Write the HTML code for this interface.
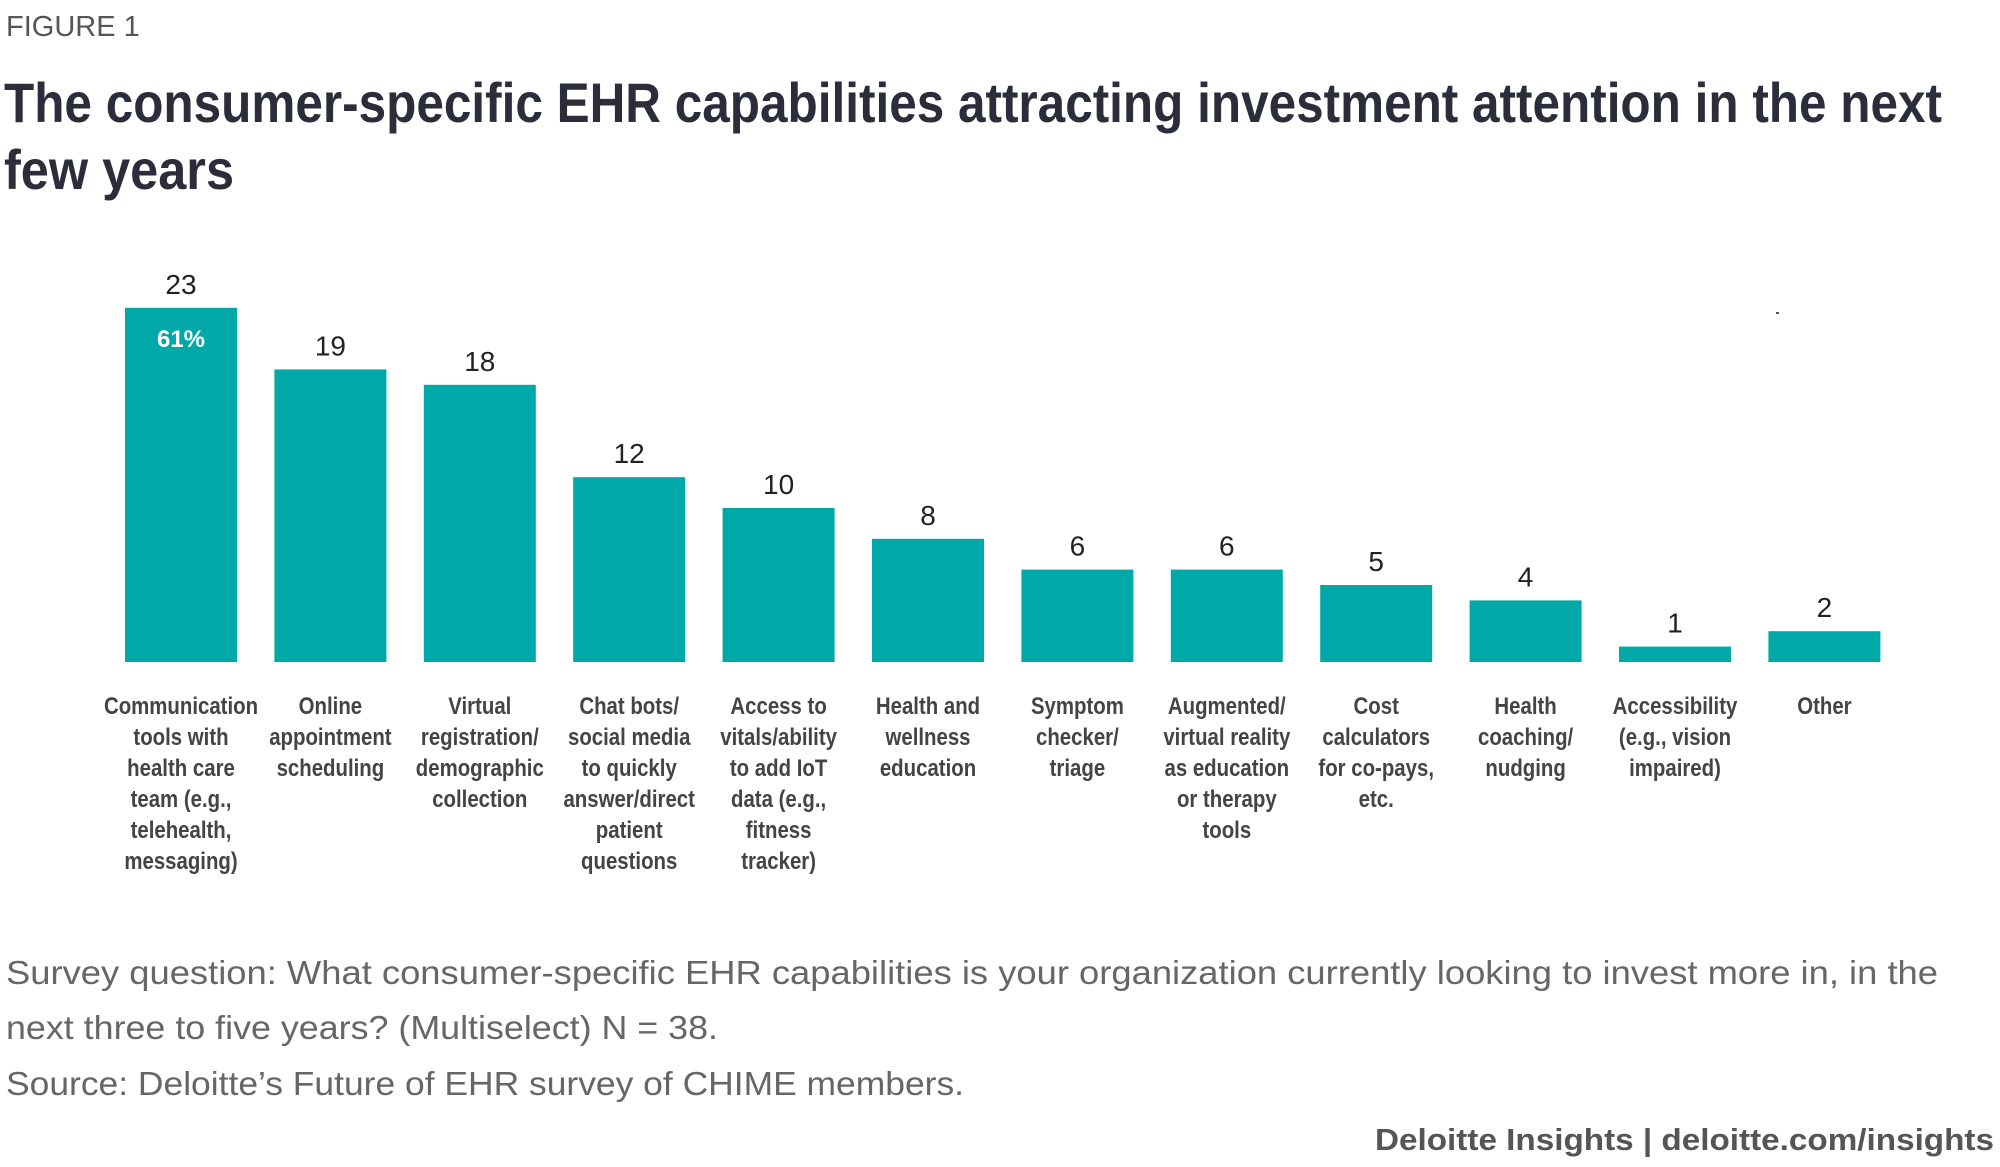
<!DOCTYPE html>
<html><head><meta charset="utf-8"><style>
html,body{margin:0;padding:0;background:#fff;}
svg{display:block;}
</style></head><body>
<svg id="chart" width="2000" height="1167" viewBox="0 0 2000 1167" xmlns="http://www.w3.org/2000/svg">
<text x="6" y="36" font-family="Liberation Sans, sans-serif" font-size="29" fill="#555">FIGURE 1</text>
<text x="4" y="122" font-family="Liberation Sans Narrow, Liberation Sans, sans-serif" font-weight="bold" font-size="56" fill="#2b2d3a" textLength="1938" lengthAdjust="spacingAndGlyphs">The consumer-specific EHR capabilities attracting investment attention in the next</text>
<text x="4" y="189" font-family="Liberation Sans Narrow, Liberation Sans, sans-serif" font-weight="bold" font-size="56" fill="#2b2d3a" textLength="230" lengthAdjust="spacingAndGlyphs">few years</text>
<g id="bars"></g>
<text x="6" y="984" font-family="Liberation Sans, sans-serif" font-size="33" fill="#666" textLength="1932" lengthAdjust="spacingAndGlyphs">Survey question: What consumer-specific EHR capabilities is your organization currently looking to invest more in, in the</text>
<text x="6" y="1039" font-family="Liberation Sans, sans-serif" font-size="33" fill="#666" textLength="712" lengthAdjust="spacingAndGlyphs">next three to five years? (Multiselect) N = 38.</text>
<text x="6" y="1095" font-family="Liberation Sans, sans-serif" font-size="33" fill="#666" textLength="958" lengthAdjust="spacingAndGlyphs">Source: Deloitte’s Future of EHR survey of CHIME members.</text>
<text x="1375" y="1150" font-family="Liberation Sans, sans-serif" font-weight="bold" font-size="31" fill="#555" textLength="619" lengthAdjust="spacingAndGlyphs">Deloitte Insights | deloitte.com/insights</text>
<rect x="1776" y="312" width="3" height="2" fill="#555"/>
</svg>
<script>
const categories = [
 ["Communication","tools with","health care","team (e.g.,","telehealth,","messaging)"],
 ["Online","appointment","scheduling"],
 ["Virtual","registration/","demographic","collection"],
 ["Chat bots/","social media","to quickly","answer/direct","patient","questions"],
 ["Access to","vitals/ability","to add IoT","data (e.g.,","fitness","tracker)"],
 ["Health and","wellness","education"],
 ["Symptom","checker/","triage"],
 ["Augmented/","virtual reality","as education","or therapy","tools"],
 ["Cost","calculators","for co-pays,","etc."],
 ["Health","coaching/","nudging"],
 ["Accessibility","(e.g., vision","impaired)"],
 ["Other"]
];
const values = [23,19,18,12,10,8,6,6,5,4,1,2];
const pctLabels = ["61%"];
const ns = "http://www.w3.org/2000/svg";
const g = document.getElementById("bars");
const baseY = 662, unit = 15.4, x0 = 181, step = 149.4, barW = 112;
function xCenter(i){ return x0 + i*step; }
function yVal(v){ return baseY - v*unit; }
function mk(tag, attrs, text){
  const e = document.createElementNS(ns, tag);
  for (const k in attrs) e.setAttribute(k, attrs[k]);
  if (text !== undefined) e.textContent = text;
  g.appendChild(e);
  return e;
}
values.forEach((v,i)=>{
  const cx = xCenter(i);
  const r = mk("rect",{x:cx-barW/2,y:yVal(v),width:barW,height:baseY-yVal(v),fill:"#00a9a8"});
  
  
  const t = mk("text",{x:cx,y:yVal(v)-14,"text-anchor":"middle","font-family":"Liberation Sans, sans-serif","font-size":"28",fill:"#222"}, String(v));
  
  
  categories[i].forEach((line,j)=>{
    const c = mk("text",{x:0,y:0,"text-anchor":"middle","font-family":"Liberation Sans Narrow, Liberation Sans, sans-serif","font-weight":"bold","font-size":"24",fill:"#444",transform:"translate("+cx+","+(714+j*31)+") scale(0.85,1)"}, line);
    
    
  });
});
const p = mk("text",{x:xCenter(0),y:yVal(values[0])+39,"text-anchor":"middle","font-family":"Liberation Sans, sans-serif","font-weight":"bold","font-size":"24",fill:"#fff"}, pctLabels[0]);


</script>
</body></html>
